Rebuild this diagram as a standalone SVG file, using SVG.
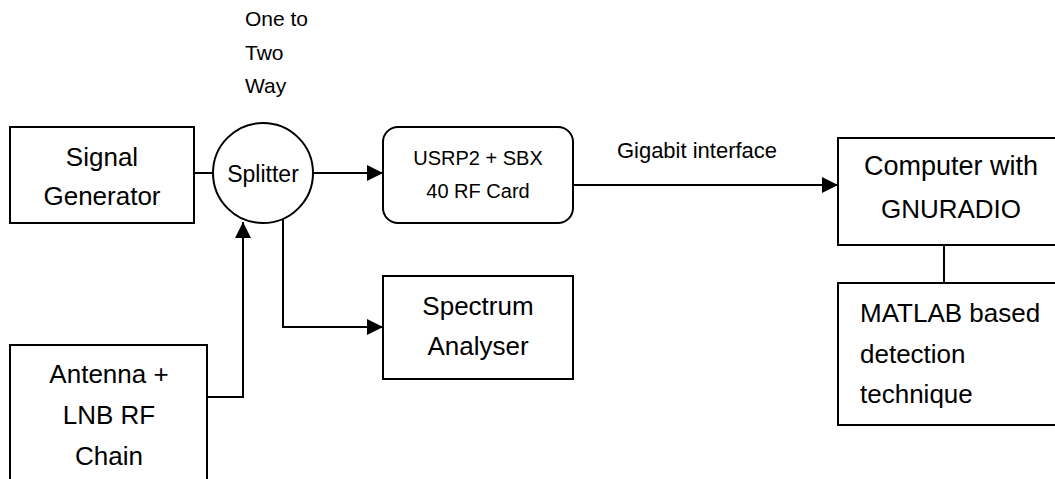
<svg xmlns="http://www.w3.org/2000/svg" width="1055" height="479" viewBox="0 0 1055 479">
<style>
.box{fill:#fff;stroke:#000;stroke-width:2}
.t{font-family:"Liberation Sans",Arial,sans-serif;fill:#000;text-anchor:middle}
.big{font-size:26px}
.mid{font-size:20px}
.sm{font-size:21px}
.l{text-anchor:start}
.c{fill:none;stroke:#000;stroke-width:2}
</style>
<defs>
<marker id="ah" markerUnits="userSpaceOnUse" markerWidth="16" markerHeight="16" refX="16" refY="8" orient="auto">
<path d="M0,0 L16,8 L0,16 z" fill="#000"/>
</marker>
</defs>
<rect width="1055" height="479" fill="#fff"/>
<g id="connectors">
<path class="c" d="M194,173 H213"/>
<path class="c" d="M313,173 H383" marker-end="url(#ah)"/>
<path class="c" d="M573,185 H838" marker-end="url(#ah)"/>
<path class="c" d="M283,219 V327 H383" marker-end="url(#ah)"/>
<path class="c" d="M207,397 H243 V222" marker-end="url(#ah)"/>
<path class="c" d="M944,245 V283"/>
<text class="t" style="font-size:22px" x="697" y="158">Gigabit interface</text>
</g>
<g id="signal-generator">
<rect class="box" x="10" y="127" width="184" height="96"/>
<text class="t big" x="102" y="166">Signal</text>
<text class="t big" x="102" y="205">Generator</text>
</g>
<g id="splitter">
<circle class="box" cx="263" cy="173" r="50"/>
<text class="t" style="font-size:23px" x="263" y="182">Splitter</text>
<text class="t sm l" x="245" y="26">One to</text>
<text class="t sm l" x="245" y="60">Two</text>
<text class="t sm l" x="245" y="93">Way</text>
</g>
<g id="usrp">
<rect class="box" x="383" y="127" width="190" height="96" rx="15" ry="15"/>
<text class="t mid" x="478" y="165">USRP2 + SBX</text>
<text class="t mid" x="478" y="198">40 RF Card</text>
</g>
<g id="spectrum-analyser">
<rect class="box" x="383" y="276" width="190" height="103"/>
<text class="t big" x="478" y="315">Spectrum</text>
<text class="t big" x="478" y="355">Analyser</text>
</g>
<g id="antenna">
<rect class="box" x="10" y="345" width="197" height="150"/>
<text class="t big" x="109" y="383">Antenna +</text>
<text class="t big" x="109" y="424">LNB RF</text>
<text class="t big" x="109" y="465">Chain</text>
</g>
<g id="computer">
<rect class="box" x="838" y="138" width="230" height="107"/>
<text class="t" style="font-size:27px" x="951" y="175">Computer with</text>
<text class="t big" x="951" y="218">GNURADIO</text>
</g>
<g id="matlab">
<rect class="box" x="838" y="283" width="230" height="142"/>
<text class="t big l" x="860" y="322">MATLAB based</text>
<text class="t big l" x="860" y="363">detection</text>
<text class="t big l" x="860" y="403">technique</text>
</g>
</svg>
